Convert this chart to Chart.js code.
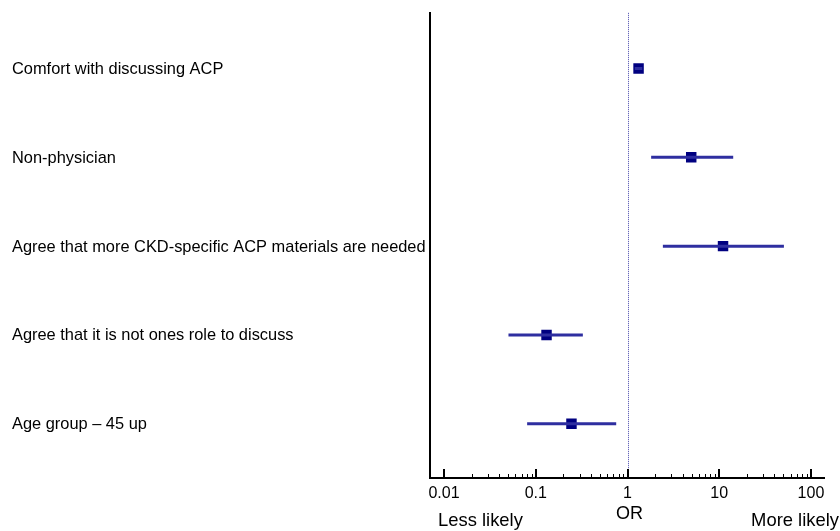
<!DOCTYPE html>
<html>
<head>
<meta charset="utf-8">
<script src="https://cdn.jsdelivr.net/npm/chart.js@4"></script>
<style>
  html, body { margin: 0; padding: 0; background: #fff; }
  #wrap { width: 840px; height: 531px; }
</style>
</head>
<body>
<div id="wrap"><canvas id="chart"></canvas></div>
<script>
const labels = [
  'Comfort with discussing ACP',
  'Non-physician',
  'Agree that more CKD-specific ACP materials are needed',
  'Agree that it is not ones role to discuss',
  'Age group \u2013 45 up'
];
const rowPos = [5, 4, 3, 2, 1];
const oddsRatio = [1.32, 4.95, 11.0, 0.131, 0.245];
const ciLow = [1.2, 1.81, 2.43, 0.0504, 0.0805];
const ciHigh = [1.45, 14.2, 50.7, 0.326, 0.753];
const xTicks = [0.01, 0.1, 1, 10, 100];

const FONT = '"Liberation Sans", Arial, Helvetica, sans-serif';

const ciSets = labels.map((l, i) => ({
  type: 'line',
  data: [{ x: ciLow[i], y: rowPos[i] }, { x: ciHigh[i], y: rowPos[i] }],
  borderColor: '#2e2ea0',
  borderWidth: 3,
  pointRadius: 0,
  fill: false
}));

const pointSet = {
  type: 'scatter',
  data: labels.map((l, i) => ({ x: oddsRatio[i], y: rowPos[i] })),
  backgroundColor: '#000080',
  borderColor: '#000080',
  borderWidth: 0,
  pointStyle: 'rect',
  pointRadius: 7.4
};

// tick marks, reference line and side captions
const extras = {
  id: 'extras',
  beforeDatasetsDraw(chart) {
    const { ctx, chartArea } = chart;
    const x = chart.scales.x;
    const px = x.getPixelForValue(1);
    ctx.save();
    ctx.strokeStyle = '#4a4aac';
    ctx.lineWidth = 1;
    ctx.setLineDash([1, 1]);
    ctx.beginPath();
    ctx.moveTo(Math.round(px) + 0.5, chartArea.top);
    ctx.lineTo(Math.round(px) + 0.5, chartArea.bottom);
    ctx.stroke();
    ctx.restore();
  },
  afterDraw(chart) {
    const { ctx, chartArea } = chart;
    const x = chart.scales.x;
    const b = chartArea.bottom;
    ctx.save();
    ctx.strokeStyle = '#000';
    for (let e = -2; e <= 2; e++) {
      for (let m = 1; m <= 9; m++) {
        if (e === 2 && m > 1) break;
        const p = Math.round(x.getPixelForValue(m * Math.pow(10, e)));
        const major = m === 1;
        ctx.lineWidth = major ? 2 : 1;
        ctx.beginPath();
        ctx.moveTo(p + (major ? 0 : 0.5), b);
        ctx.lineTo(p + (major ? 0 : 0.5), b - (major ? 9 : 4));
        ctx.stroke();
      }
    }
    ctx.fillStyle = '#000';
    ctx.font = '18px ' + FONT;
    ctx.textBaseline = 'middle';
    ctx.textAlign = 'center';
    ctx.fillText('OR', x.getPixelForValue(1) + 2, 514);
    ctx.font = '18.4px ' + FONT;
    ctx.textAlign = 'left';
    ctx.fillText('Less likely', 438, 521);
    ctx.textAlign = 'right';
    ctx.fillText('More likely', 839, 521);
    ctx.restore();
  }
};

new Chart(document.getElementById('chart'), {
  data: { datasets: [...ciSets, pointSet] },
  options: {
    responsive: true,
    maintainAspectRatio: false,
    animation: false,
    layout: { padding: { left: 12, top: 12, right: 16, bottom: 0 } },
    plugins: { legend: { display: false }, tooltip: { enabled: false } },
    scales: {
      x: {
        type: 'logarithmic',
        min: 0.00703,
        max: 138.7,
        afterBuildTicks: s => { s.ticks = xTicks.map(v => ({ value: v })); },
        afterFit: s => { s.height = 53; },
        grid: { display: false, drawTicks: false },
        border: { display: true, color: '#000', width: 2 },
        ticks: {
          color: '#000',
          font: { family: FONT, size: 16 },
          padding: 6,
          maxRotation: 0,
          autoSkip: false,
          callback: v => String(v)
        }
      },
      y: {
        type: 'linear',
        min: 0.39,
        max: 5.626,
        afterBuildTicks: s => { s.ticks = rowPos.map(v => ({ value: v })); },
        afterFit: s => { s.width = 418; },
        grid: { display: false },
        border: { display: true, color: '#000', width: 2 },
        ticks: {
          color: '#000',
          crossAlign: 'far',
          labelOffset: 1,
          font: { family: FONT, size: 16.4 },
          callback: v => labels[rowPos.indexOf(v)]
        }
      }
    }
  },
  plugins: [extras]
});
</script>
</body>
</html>
